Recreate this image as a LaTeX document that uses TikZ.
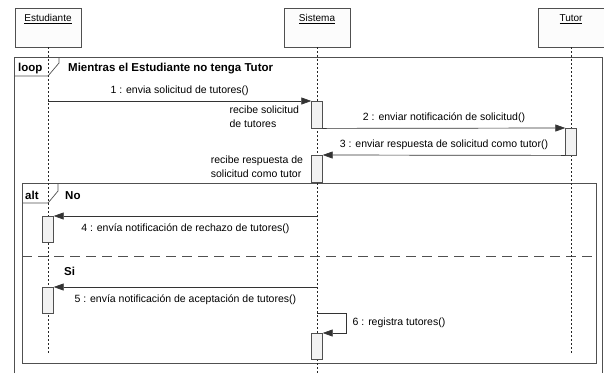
\documentclass[tikz,border=0pt]{standalone}
\usepackage{fontspec}
\setmainfont{Liberation Sans}
\usetikzlibrary{arrows.meta,positioning}

\definecolor{umlline}{HTML}{505050}
\definecolor{umlhead}{HTML}{FCFCFC}
\definecolor{umlact}{HTML}{F2F2F2}

\tikzset{
	lifehead/.style={draw=umlline, fill=umlhead, anchor=north, minimum width=66pt,
		inner ysep=3pt, text height=10pt, text depth=23pt, font=\fontsize{10}{12}\selectfont},
	activ/.style={draw=umlline, fill=umlact, anchor=north, minimum width=11pt, inner sep=0pt},
	lifeline/.style={draw=black!85, dash pattern=on 2pt off 2pt},
	frame/.style={draw=umlline, line width=0.7pt},
	msg/.style={draw=black!80, line width=0.7pt, -{Triangle[length=10pt,width=7pt]}},
	note/.style={align=left, inner sep=0pt},
	fraglabel/.style={font=\fontsize{11.5}{13}\selectfont\bfseries, inner sep=0pt}
}

\begin{document}
\begin{tikzpicture}[x=1pt, y=-1pt, every node/.append style={font=\fontsize{10.5}{14}\selectfont}]
		\useasboundingbox (0,0) rectangle (604,373);
		\node[lifehead] (est) at (48,8) {\underline{Estudiante}};
		\node[lifehead] (sis) at (317,8) {\underline{Sistema}};
		\node[lifehead] (tut) at (571,8) {\underline{Tutor}};
		% loop
		\draw[frame] (14,373) -- (14,57) -- (602,57) -- (602,373);
		\draw[frame] (14,76) -- (48,76) -- (59,63) -- (59,57);
		\node[fraglabel, anchor=base west] (lp) at (18,71) {loop};
		\node[fraglabel, anchor=base west] (cond) at (68,71) {Mientras el Estudiante no tenga Tutor};
		% alt
		\draw[frame] (22,183) rectangle (596,363);
		\draw[frame] (22,203) -- (48,203) -- (58,191) -- (58,183);
		\draw[frame, dash pattern=on 10pt off 6pt] (22,256) -- (596,256);
		\node[fraglabel, anchor=base west] (alt) at (25,199) {alt};
		\node[fraglabel, anchor=base west] (no) at (65,199) {No};
		\node[fraglabel, anchor=base west] (si) at (64,275) {Si};
		\foreach \n/\e in {est/355, sis/373, tut/355}
			\draw[lifeline] (\n.south) -- (\n.south |- 0,\e);
		\node[activ, minimum height=27pt] (s1) at (317,101) {};
		\node[activ, minimum height=27pt] (t1) at (571,128) {};
		\node[activ, minimum height=27pt] (s2) at (317,155) {};
		\node[activ, minimum height=26pt] (e1) at (48,216) {};
		\node[activ, minimum height=26pt] (e2) at (48,287) {};
		\node[activ, minimum height=26pt] (s3) at (317,333) {};
		\node[note, below left=5pt and 12pt of s1.north west] (n1) {recibe solicitud\\de tutores};
		\node[note, below left=1pt and 8pt of s2.north west] (n2) {recibe respuesta de\\solicitud como tutor};
		\draw[msg] (est.south |- s1.north) -- (s1.north west)
			node[midway, above=2pt] (m1) {1 : envia solicitud de tutores()};
		\draw[msg] (s1.south east) -- (t1.north west)
			node[midway, above=2pt] (m2) {2 : enviar notificación de solicitud()};
		\draw[msg] (t1.south west) -- (s2.north east)
			node[midway, above=2pt] (m3) {3 : enviar respuesta de solicitud como tutor()};
		\draw[msg] (sis.south |- e1.north) -- (e1.north east)
			node[midway, below=4pt] (m4) {4 : envía notificación de rechazo de tutores()};
		\draw[msg] (sis.south |- e2.north) -- (e2.north east)
			node[midway, below=4pt] (m5) {5 : envía notificación de aceptación de tutores()};
		\draw[msg] (sis.south |- 0,313) -- ++(29,0) |- (s3.north east)
			node[pos=0.25, right=3pt] (m6) {6 : registra tutores()};
		\end{tikzpicture}
\end{document}
